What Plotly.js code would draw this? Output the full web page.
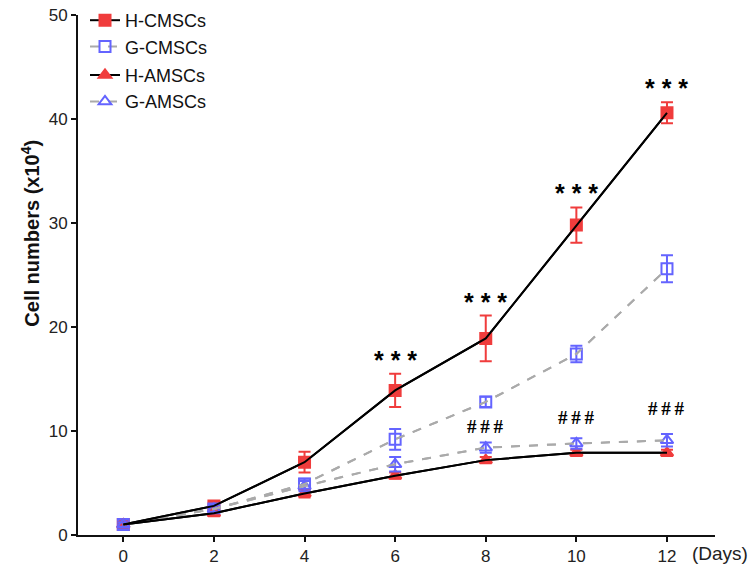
<!DOCTYPE html>
<html><head><meta charset="utf-8">
<script src="https://cdn.plot.ly/plotly-3.0.1.min.js"></script>
<style>body{margin:0;background:#fff}#c{width:751px;height:565px}</style>
</head><body><div id="c"></div>
<script>
const days = [0, 2, 4, 6, 8, 10, 12];
const hCMSC = [1.0, 2.8, 7.0, 13.9, 18.9, 29.8, 40.6];
const hCMSCerr = [0.3, 0.4, 1.0, 1.6, 2.2, 1.7, 1.0];
const gCMSC = [1.0, 2.5, 4.9, 9.2, 12.8, 17.4, 25.6];
const gCMSCerr = [0.3, 0.4, 0.5, 1.0, 0.5, 0.8, 1.3];
const hAMSC = [1.0, 2.1, 4.0, 5.7, 7.2, 7.9, 7.9];
const hAMSCerr = [0.2, 0.3, 0.4, 0.3, 0.3, 0.3, 0.3];
const gAMSC = [1.0, 2.5, 4.7, 6.8, 8.4, 8.8, 9.1];
const gAMSCerr = [0.2, 0.4, 0.5, 0.7, 0.5, 0.5, 0.6];
const starDays = [6, 8, 10, 12];
const hashDays = [8, 10, 12];

const RED = '#f03c3c', BLUE = '#6464ff';
function lineStyle(solid) {
  return {color: solid ? '#000' : '#aaaaaa', width: 2, dash: solid ? 'solid' : 'dash'};
}
function tr(name, y, err, sym, col, solid, group) {
  return {
    x: days, y: y, name: name, mode: 'lines+markers', type: 'scatter', legendgroup: group,
    line: lineStyle(solid),
    marker: {symbol: sym, size: 11, color: col, line: {color: col, width: 2}},
    error_y: {type: 'data', array: err, visible: true, color: col, thickness: 2, width: 6}
  };
}
function over(y, solid) {
  return {x: days, y: y, mode: 'lines', type: 'scatter', showlegend: false, hoverinfo: 'skip', line: lineStyle(solid)};
}
const data = [
  tr('H-CMSCs', hCMSC, hCMSCerr, 'square', RED, true, 'c'),
  tr('G-CMSCs', gCMSC, gCMSCerr, 'square-open', BLUE, false, 'c'),
  tr('H-AMSCs', hAMSC, hAMSCerr, 'triangle-up', RED, true, 'a'),
  tr('G-AMSCs', gAMSC, gAMSCerr, 'triangle-up-open', BLUE, false, 'a'),
  over(gCMSC, false), over(gAMSC, false), over(hCMSC, true), over(hAMSC, true)
];
const ann = [];
starDays.forEach(d => {
  const i = days.indexOf(d);
  ann.push({x: d, y: hCMSC[i] + hCMSCerr[i], yref: 'y', xref: 'x', text: '<b>* * *</b>', showarrow: false,
    yanchor: 'bottom', yshift: -2, font: {family: 'Liberation Sans, Arial', size: 25, color: '#000'}});
});
hashDays.forEach(d => {
  const i = days.indexOf(d);
  ann.push({x: d, y: gAMSC[i] + gAMSCerr[i], yref: 'y', xref: 'x', text: '<b>#&#8201;#&#8201;#</b>', showarrow: false,
    yanchor: 'bottom', yshift: 3 + (i - 4) * 5, font: {family: 'Liberation Serif, Times New Roman', size: 19, color: '#000'}});
});
ann.push({x: 1.055, xref: 'paper', xanchor: 'right', y: 0, yref: 'paper', yanchor: 'top', yshift: -6,
  text: '(Days)', showarrow: false, font: {family: 'Liberation Sans, Arial', size: 19, color: '#222'}});
ann.push({x: -0.075, xref: 'paper', xanchor: 'center', y: 0.58, yref: 'paper', yanchor: 'middle', textangle: -90,
  text: '<b>Cell numbers (x10<sup>4</sup>)</b>', showarrow: false, font: {family: 'Liberation Sans, Arial', size: 20, color: '#111'}});

const layout = {
  width: 751, height: 565,
  margin: {l: 78, r: 36, t: 15, b: 30, autoexpand: false},
  paper_bgcolor: '#fff', plot_bgcolor: '#fff',
  font: {family: 'Liberation Sans, Arial', color: '#222'},
  showlegend: true,
  legend: {x: 0.011, y: 1.025, xanchor: 'left', yanchor: 'top', bgcolor: 'rgba(0,0,0,0)',
    traceorder: 'grouped', tracegroupgap: 2, font: {size: 18, color: '#111'}, itemwidth: 30},
  xaxis: {range: [-1, 13.06], tickvals: days, ticktext: days.map(String), showgrid: false, zeroline: false,
    showline: true, linecolor: '#111', linewidth: 2, ticks: 'outside', ticklen: 5, tickwidth: 2, tickcolor: '#111',
    tickfont: {size: 17, color: '#222'}},
  yaxis: {range: [0, 50], dtick: 10, showgrid: false, zeroline: false,
    showline: true, linecolor: '#111', linewidth: 2, ticks: 'outside', ticklen: 5, tickwidth: 2, tickcolor: '#111',
    tickfont: {size: 17, color: '#222'}},
  annotations: ann
};
Plotly.newPlot('c', data, layout, {displayModeBar: false});
</script></body></html>
